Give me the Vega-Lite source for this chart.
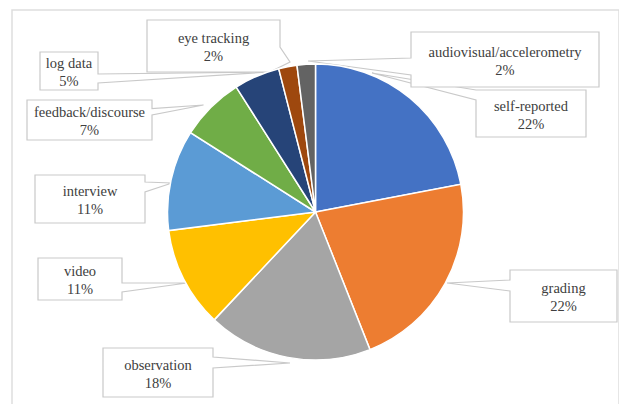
{
  "$schema": "https://vega.github.io/schema/vega-lite/v6.json",
  "width": 607,
  "height": 404,
  "autosize": "none",
  "padding": {"left": 12, "top": 10, "right": 0, "bottom": 0},
  "background": "white",
  "config": {"view": {"stroke": "#dedede", "strokeWidth": 1.5}, "text": {"font": "Liberation Serif"}},
  "data": {
    "values": [
      {"category": "self-reported", "value": 0.22, "order": 1},
      {"category": "grading", "value": 0.22, "order": 2},
      {"category": "observation", "value": 0.18, "order": 3},
      {"category": "video", "value": 0.11, "order": 4},
      {"category": "interview", "value": 0.11, "order": 5},
      {"category": "feedback/discourse", "value": 0.07, "order": 6},
      {"category": "log data", "value": 0.05, "order": 7},
      {"category": "eye tracking", "value": 0.02, "order": 8},
      {"category": "audiovisual/accelerometry", "value": 0.02, "order": 9}
    ]
  },
  "layer": [
    {
      "mark": {"type": "point", "filled": true, "fill": "white", "stroke": "#c9c9c9", "strokeWidth": 1.2, "opacity": 1, "size": 4},
      "encoding": {
        "x": {"field": "order", "type": "quantitative", "axis": null,
              "scale": {"domain": [1,2,3,4,5,6,7,8,9], "range": [519,551.5,146,68,78,77.5,57,201.5,493], "zero": false, "nice": false}},
        "y": {"field": "order", "type": "quantitative", "axis": null,
              "scale": {"domain": [1,2,3,4,5,6,7,8,9], "range": [103.5,286,362.5,269,189,110,61,36,49.5], "zero": false, "nice": false}},
        "shape": {"field": "category", "type": "nominal", "legend": null,
                  "scale": {"domain": ["self-reported","grading","observation","video","interview","feedback/discourse","log data","eye tracking","audiovisual/accelerometry"],
                            "range": [
                              "M-55,-23.5H55V23.5H-55V-13.5L-159,-40.5Z",
                              "M-53.5,-26H53.5V26H-53.5V-5L-116.5,-13L-53.5,-16Z",
                              "M-55,-24.5H55V-15.5L132,-9.5L55,-4.5V24.5H-55Z",
                              "M-42,-21H42V4L107,4L42,13V21H-42Z",
                              "M-55,-24H55V-17L82,-16L55,-7V24H-55Z",
                              "M-62.5,-20H62.5V-11.5L114,-15L62.5,-5V20H-62.5Z",
                              "M-29,-19H29V3L201,1L29,12V19H-29Z",
                              "M-66.5,-26H66.5V1L76.5,16L56.5,26H-66.5Z",
                              "M-94,-27.5H94V27.5H-94V15.5L-197,1.5L-94,-1.5Z"
                            ]}}
      }
    },
    {
      "mark": {"type": "arc", "outerRadius": 148, "stroke": "white", "strokeWidth": 1.5},
      "encoding": {
        "theta": {"field": "value", "type": "quantitative", "stack": true},
        "order": {"field": "order", "type": "quantitative"},
        "color": {"field": "category", "type": "nominal", "legend": null,
                  "scale": {"domain": ["self-reported","grading","observation","video","interview","feedback/discourse","log data","eye tracking","audiovisual/accelerometry"],
                            "range": ["#4472C4","#ED7D31","#A5A5A5","#FFC000","#5B9BD5","#70AD47","#264478","#9E480E","#636363"]}}
      }
    },
    {
      "mark": {"type": "text", "font": "Liberation Serif", "fontSize": 14.5, "fill": "#404040", "align": "center", "baseline": "middle", "dy": -7},
      "encoding": {
        "x": {"field": "order", "type": "quantitative"},
        "y": {"field": "order", "type": "quantitative"},
        "text": {"field": "category", "type": "nominal"}
      }
    },
    {
      "mark": {"type": "text", "font": "Liberation Serif", "fontSize": 14.5, "fill": "#404040", "align": "center", "baseline": "middle", "dy": 11},
      "encoding": {
        "x": {"field": "order", "type": "quantitative"},
        "y": {"field": "order", "type": "quantitative"},
        "text": {"field": "value", "type": "quantitative", "format": ".0%"}
      }
    }
  ]
}
